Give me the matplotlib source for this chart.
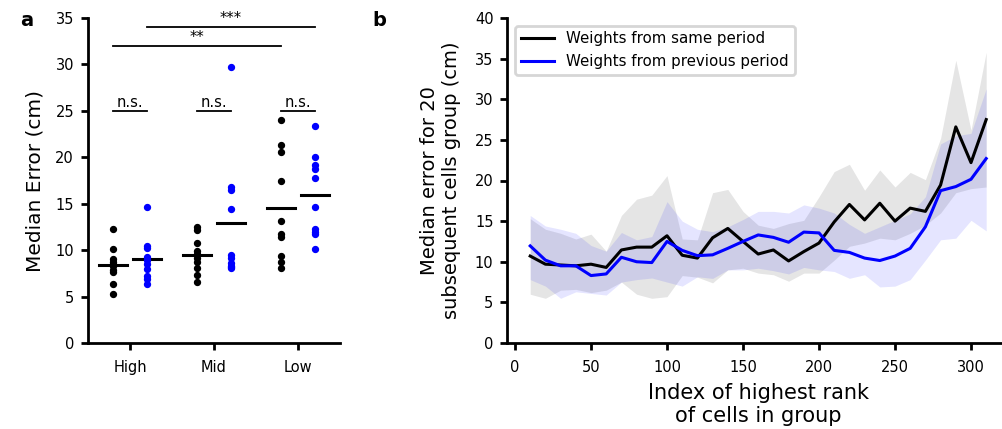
import numpy as np
import matplotlib
matplotlib.use("Agg")
import matplotlib.pyplot as plt

# ---- panel a data: per-session median errors (cm)
groups = ["High", "Mid", "Low"]
same_high = [12.3, 10.1, 9.1, 8.7, 8.5, 8.3, 7.9, 7.6, 6.4, 5.3]
same_mid = [12.5, 12.2, 10.8, 9.9, 9.6, 9.2, 8.7, 8.1, 7.3, 6.6]
same_low = [24.0, 21.3, 20.6, 17.4, 13.1, 11.7, 11.4, 9.4, 8.75, 8.1]
prev_high = [14.6, 10.4, 10.2, 9.3, 8.9, 8.5, 8.0, 7.2, 6.9, 6.4]
prev_mid = [29.7, 16.8, 16.5, 14.4, 9.5, 9.2, 8.6, 8.3, 8.2, 8.1]
prev_low = [23.4, 20.0, 19.2, 18.7, 17.8, 14.65, 12.3, 12.0, 11.7, 10.1]

# ---- panel b data: error vs rank index
rank_idx = np.arange(10, 320, 10)
same_med = [10.7, 9.7, 9.6, 9.5, 9.7, 9.3, 11.45, 11.8, 11.8, 13.2,
            10.8, 10.45, 12.95, 14.1, 12.5, 10.95, 11.45, 10.1, 11.25, 12.3,
            14.9, 17.05, 15.15, 17.2, 15.0, 16.6, 16.2, 19.45, 26.6, 22.2, 27.5]
same_lo = [6.0, 5.5, 6.5, 6.6, 6.2, 6.5, 7.5, 6.0, 5.5, 5.7,
           8.3, 8.1, 7.4, 9.0, 9.2, 8.6, 8.4, 7.6, 8.6, 8.6,
           10.2, 11.9, 12.3, 12.9, 12.7, 13.5, 14.5, 16.0, 18.5, 19.0, 19.2]
same_hi = [15.3, 14.0, 13.5, 12.8, 13.4, 11.3, 15.7, 17.7, 18.2, 20.6,
           12.8, 12.7, 18.5, 18.9, 16.2, 14.5, 14.1, 14.7, 15.1, 18.0,
           21.1, 22.0, 18.8, 21.3, 19.2, 21.0, 20.1, 25.2, 34.8, 26.2, 35.8]
prev_med = [11.95, 10.2, 9.5, 9.5, 8.3, 8.5, 10.55, 10.0, 9.9, 12.5,
            11.4, 10.75, 10.85, 11.65, 12.5, 13.3, 13.0, 12.4, 13.65, 13.55,
            11.4, 11.15, 10.45, 10.15, 10.7, 11.65, 14.3, 18.75, 19.25, 20.15, 22.7]
prev_lo = [7.8, 7.0, 5.5, 6.3, 6.1, 5.9, 7.5, 7.8, 8.0, 7.5,
           7.0, 8.15, 7.95, 9.0, 9.0, 9.2, 8.9, 8.5, 9.3, 9.0,
           8.8, 7.96, 8.4, 6.9, 7.0, 7.8, 10.2, 12.7, 12.9, 15.1, 13.8]
prev_hi = [15.7, 14.4, 14.0, 13.5, 12.0, 11.3, 13.6, 12.7, 13.1, 17.4,
           15.0, 14.0, 13.7, 14.3, 15.2, 16.2, 16.2, 16.0, 17.0, 16.6,
           16.0, 14.6, 13.5, 14.3, 15.1, 15.9, 18.0, 24.5, 25.5, 25.8, 31.3]

fig = plt.figure(figsize=(10.02, 4.29), dpi=100)


def style_axes(ax):
    for s in ["top", "right"]:
        ax.spines[s].set_visible(False)
    for s in ["left", "bottom"]:
        ax.spines[s].set_linewidth(2.0)
    ax.tick_params(width=2.0, length=5, labelsize=10.5)
    ax.tick_params(axis="x", pad=7)
    ax.tick_params(axis="y", pad=5)


# ---------------- panel a
ax1 = fig.add_axes([88 / 1002, 86 / 429, 252 / 1002, 325 / 429])
same_all = [same_high, same_mid, same_low]
prev_all = [prev_high, prev_mid, prev_low]
off = 0.2
for i, (s, p) in enumerate(zip(same_all, prev_all)):
    ax1.scatter(np.full(len(s), i - off), s, s=18, color="black", zorder=3)
    ax1.scatter(np.full(len(p), i + off), p, s=18, color="blue", zorder=3)
    ax1.plot([i - off - 0.17, i - off + 0.17], [np.mean(s)] * 2, color="black", lw=2.2)
    ax1.plot([i + off - 0.17, i + off + 0.17], [np.mean(p)] * 2, color="black", lw=2.2)
    # n.s. bars
    ax1.plot([i - off, i + off], [25, 25], color="black", lw=1.3)
    ax1.text(i, 25.1, "n.s.", ha="center", va="bottom", fontsize=10.5)

ax1.plot([0 - off, 2 - off], [32, 32], color="black", lw=1.3)
ax1.text(1 - off, 32.1, "**", ha="center", va="bottom", fontsize=10.5)
ax1.plot([0 + off, 2 + off], [34, 34], color="black", lw=1.3)
ax1.text(1 + off, 34.1, "***", ha="center", va="bottom", fontsize=10.5)

ax1.set_xlim(-0.5, 2.5)
ax1.set_ylim(0, 35)
ax1.set_xticks(range(3))
ax1.set_xticklabels(groups)
ax1.set_yticks(np.arange(0, 36, 5))
ax1.set_ylabel("Median Error (cm)", fontsize=14.5, labelpad=8)
style_axes(ax1)

# ---------------- panel b
ax2 = fig.add_axes([507.4 / 1002, 86 / 429, 501.6 / 1002, 325 / 429])
ax2.fill_between(rank_idx, same_lo, same_hi, color="black", alpha=0.1, lw=0)
ax2.fill_between(rank_idx, prev_lo, prev_hi, color="blue", alpha=0.1, lw=0)
ax2.plot(rank_idx, same_med, color="black", lw=2.2, label="Weights from same period")
ax2.plot(rank_idx, prev_med, color="blue", lw=2.2, label="Weights from previous period")
ax2.set_xlim(-5, 325)
ax2.set_ylim(0, 40)
ax2.set_xticks(np.arange(0, 301, 50))
ax2.set_yticks(np.arange(0, 41, 5))
ax2.set_xlabel("Index of highest rank\nof cells in group", fontsize=15, labelpad=6)
ax2.set_ylabel("Median error for 20\nsubsequent cells group (cm)", fontsize=14, labelpad=10)
style_axes(ax2)
leg = ax2.legend(loc="upper left", fontsize=10.8, frameon=True, fancybox=True,
                 borderaxespad=0.5, handlelength=2.2)
leg.get_frame().set_edgecolor("#cccccc")
leg.get_frame().set_linewidth(2)

fig.text(20 / 1002, 1 - 20 / 429, "a", fontsize=14, fontweight="bold", va="center")
fig.text(372 / 1002, 1 - 20 / 429, "b", fontsize=14, fontweight="bold", va="center")

fig.savefig("out.png", dpi=100)
